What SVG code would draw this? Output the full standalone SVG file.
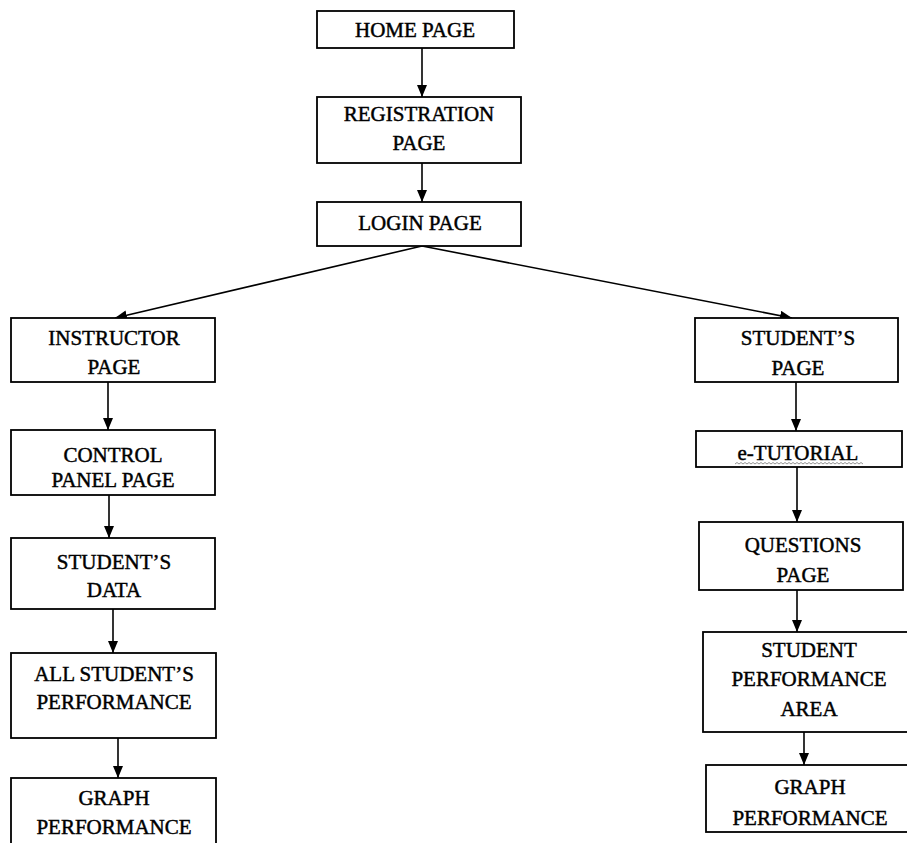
<svg xmlns="http://www.w3.org/2000/svg" width="907" height="843" viewBox="0 0 907 843">
<defs>
<style>
.box{fill:#fff;stroke:#000;stroke-width:1.8}
.t{font-family:"Liberation Serif","Times New Roman",serif;font-size:21px;fill:#000;stroke:#000;stroke-width:0.45;text-anchor:middle}
.c{stroke:#000;stroke-width:1.6;fill:none;marker-end:url(#ah)}
</style>
<marker id="ah" markerUnits="userSpaceOnUse" markerWidth="12" markerHeight="10" viewBox="0 0 12 10" refX="12" refY="5" orient="auto">
<path d="M0,0 L12,5 L0,10 Z" fill="#000"/>
</marker>
</defs>
<rect width="907" height="843" fill="#fff"/>
<g id="connectors">
<line class="c" x1="422" y1="48" x2="422" y2="97"/>
<line class="c" x1="422" y1="163" x2="422" y2="202"/>
<line class="c" x1="422" y1="246" x2="115" y2="318"/>
<line class="c" x1="422" y1="246" x2="792" y2="318"/>
<line class="c" x1="108" y1="382" x2="108" y2="430"/>
<line class="c" x1="109" y1="495" x2="109" y2="538"/>
<line class="c" x1="113" y1="609" x2="113" y2="653"/>
<line class="c" x1="118" y1="738" x2="118" y2="778"/>
<line class="c" x1="796" y1="382" x2="796" y2="431"/>
<line class="c" x1="797" y1="467" x2="797" y2="522"/>
<line class="c" x1="797" y1="590" x2="797" y2="632"/>
<line class="c" x1="804" y1="732" x2="804" y2="765"/>
</g>
<g id="home">
<rect class="box" x="317" y="11" width="197" height="37"/>
<text class="t" x="415" y="37">HOME PAGE</text>
</g>
<g id="registration">
<rect class="box" x="317" y="97" width="204" height="66"/>
<text class="t" x="419" y="121">REGISTRATION</text>
<text class="t" x="419" y="150">PAGE</text>
</g>
<g id="login">
<rect class="box" x="317" y="202" width="204" height="44"/>
<text class="t" x="420" y="230">LOGIN PAGE</text>
</g>
<g id="instructor">
<rect class="box" x="11" y="318" width="204" height="64"/>
<text class="t" x="114" y="345">INSTRUCTOR</text>
<text class="t" x="114" y="374">PAGE</text>
</g>
<g id="control">
<rect class="box" x="11" y="430" width="204" height="65"/>
<text class="t" x="113" y="462">CONTROL</text>
<text class="t" x="113" y="487">PANEL PAGE</text>
</g>
<g id="studentsdata">
<rect class="box" x="11" y="538" width="204" height="71"/>
<text class="t" x="114" y="569">STUDENT’S</text>
<text class="t" x="114" y="597">DATA</text>
</g>
<g id="allperformance">
<rect class="box" x="11" y="653" width="205" height="85"/>
<text class="t" x="114" y="681">ALL STUDENT’S</text>
<text class="t" x="114" y="709">PERFORMANCE</text>
</g>
<g id="graphleft">
<rect class="box" x="11" y="778" width="205" height="90"/>
<text class="t" x="114" y="805">GRAPH</text>
<text class="t" x="114" y="834">PERFORMANCE</text>
</g>
<g id="studentspage">
<rect class="box" x="695" y="318" width="203" height="64"/>
<text class="t" x="798" y="345">STUDENT’S</text>
<text class="t" x="798" y="375">PAGE</text>
</g>
<g id="etutorial">
<rect class="box" x="696" y="431" width="206" height="36"/>
<text class="t" x="798" y="460">e-TUTORIAL</text>
<path d="M735,464 l2,-1.5 l2,1.5 l2,-1.5 l2,1.5 l2,-1.5 l2,1.5 l2,-1.5 l2,1.5 l2,-1.5 l2,1.5 l2,-1.5 l2,1.5 l2,-1.5 l2,1.5 l2,-1.5 l2,1.5 l2,-1.5 l2,1.5 l2,-1.5 l2,1.5 l2,-1.5 l2,1.5 l2,-1.5 l2,1.5 l2,-1.5 l2,1.5 l2,-1.5 l2,1.5 l2,-1.5 l2,1.5 l2,-1.5 l2,1.5 l2,-1.5 l2,1.5 l2,-1.5 l2,1.5 l2,-1.5 l2,1.5 l2,-1.5 l2,1.5 l2,-1.5 l2,1.5 l2,-1.5 l2,1.5 l2,-1.5 l2,1.5 l2,-1.5 l2,1.5 l2,-1.5 l2,1.5 l2,-1.5 l2,1.5 l2,-1.5 l2,1.5 l2,-1.5 l2,1.5 l2,-1.5 l2,1.5 l2,-1.5 l2,1.5 l2,-1.5 l2,1.5 l2,-1.5 l2,1.5" fill="none" stroke="#777" stroke-width="0.8"/>
</g>
<g id="questions">
<rect class="box" x="699" y="522" width="204" height="68"/>
<text class="t" x="803" y="552">QUESTIONS</text>
<text class="t" x="803" y="582">PAGE</text>
</g>
<g id="studentperformance">
<rect class="box" x="703" y="632" width="212" height="100"/>
<text class="t" x="809" y="657">STUDENT</text>
<text class="t" x="809" y="686">PERFORMANCE</text>
<text class="t" x="809" y="716">AREA</text>
</g>
<g id="graphright">
<rect class="box" x="706" y="765" width="209" height="67"/>
<text class="t" x="810" y="794">GRAPH</text>
<text class="t" x="810" y="825">PERFORMANCE</text>
</g>
</svg>
